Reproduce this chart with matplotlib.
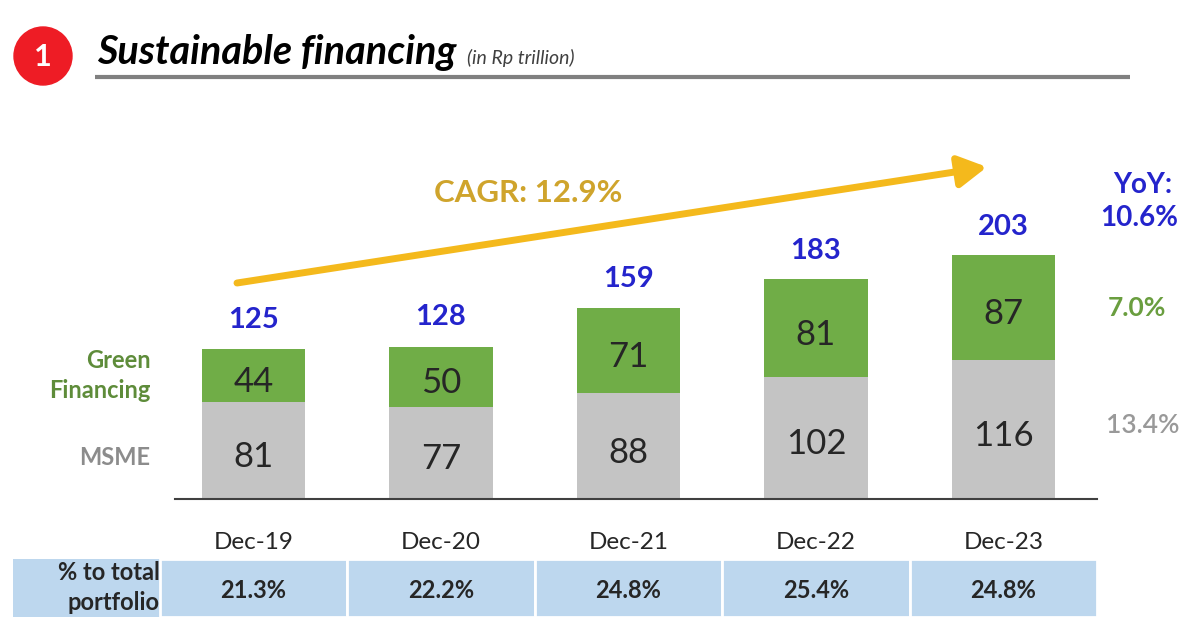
import matplotlib.pyplot as plt
from matplotlib import transforms
from matplotlib.patches import Circle, Rectangle, FancyArrowPatch

plt.rcParams['font.family'] = ['Lato', 'DejaVu Sans']

# data (Rp trillion)
periods = ['Dec-19', 'Dec-20', 'Dec-21', 'Dec-22', 'Dec-23']
msme = [81, 77, 88, 102, 116]
green = [44, 50, 71, 81, 87]
totals = [125, 128, 159, 183, 203]
share_of_portfolio = ['21.3%', '22.2%', '24.8%', '25.4%', '24.8%']
yoy_total = '10.6%'
yoy_green = '7.0%'
yoy_msme = '13.4%'
cagr = '12.9%'

W, H = 1200, 636
GREEN = '#70ad47'
GREY = '#c4c4c4'
BLUE = '#2424cc'
DARK = '#262626'

fig = plt.figure(figsize=(12, 6.36), dpi=100)

def fx(x):
    return x / W

def fy(y):
    return 1 - y / H

# overlay in pixel units for the header and the arrow
deco = fig.add_axes([0, 0, 1, 1])
deco.set_xlim(0, W)
deco.set_ylim(H, 0)
deco.axis('off')

deco.add_patch(Circle((43, 56), 29, color='#ee1c25'))
deco.text(43, 57, '1', color='white', fontsize=22, fontweight='bold',
          ha='center', va='center')
deco.text(97, 64, 'Sustainable financing', fontsize=28.5, fontweight='bold',
          fontstyle='italic', color='black', va='baseline')
deco.text(467, 64, '(in Rp trillion)', fontsize=14, fontstyle='italic',
          color='#404040', va='baseline')
deco.plot([95, 1130], [77, 77], color='#808080', lw=3, solid_capstyle='butt')

arrow = FancyArrowPatch((237, 283), (987, 167),
                        arrowstyle='-|>,head_length=1.7,head_width=0.95',
                        mutation_scale=10, lw=5, color='#f4b91c',
                        shrinkA=0, shrinkB=0, zorder=3)
deco.add_patch(arrow)
deco.text(528, 193, f'CAGR: {cagr}', fontsize=22.5, fontweight='bold',
          color='#cfa42c', ha='center', va='center')

# bar chart
ax = fig.add_axes([175 / W, (H - 499) / H, 922 / W, 359 / H])
ax.patch.set_visible(False)
x = list(range(len(periods)))
ax.bar(x, msme, width=0.55, color=GREY)
ax.bar(x, green, width=0.55, bottom=msme, color=GREEN)
ax.set_xlim(-0.4187, 4.499)
ax.set_ylim(0, 359 / 1.2)
for s in ['top', 'left', 'right']:
    ax.spines[s].set_visible(False)
ax.spines['bottom'].set_color('#404040')
ax.spines['bottom'].set_linewidth(1.5)
ax.set_yticks([])
ax.set_xticks(x, periods)
ax.tick_params(axis='x', length=0, pad=24, labelsize=17.5, labelcolor=DARK)

for i in x:
    ax.annotate(str(totals[i]), (i, totals[i]), xytext=(0, 15),
                textcoords='offset points', ha='center', va='baseline',
                fontsize=21, fontweight='bold', color=BLUE)
    ax.annotate(str(msme[i]), (i, msme[i] / 2), xytext=(0, -12),
                textcoords='offset points', ha='center', va='baseline',
                fontsize=25, color=DARK)
    ax.annotate(str(green[i]), (i, msme[i] + green[i] / 2), xytext=(0, -12),
                textcoords='offset points', ha='center', va='baseline',
                fontsize=25, color=DARK)

# series labels on the left
ax.annotate('Green\nFinancing', (-0.275, msme[0] + green[0] / 2), xytext=(-37, 0),
            textcoords='offset points', ha='right', va='center',
            fontsize=17, fontweight='bold', color='#5e8c3a', annotation_clip=False,
            linespacing=1.35)
ax.annotate('MSME', (-0.275, msme[0] / 2), xytext=(-37, -5),
            textcoords='offset points', ha='right', va='center',
            fontsize=17, fontweight='bold', color='#8c8c8c', annotation_clip=False)

# YoY labels on the right
last = len(periods) - 1
ax.annotate(yoy_total, (last, totals[last]), xytext=(98, 21),
            textcoords='offset points', ha='center', va='baseline',
            fontsize=20, fontweight='bold', color=BLUE, annotation_clip=False)
ax.annotate('YoY:', (last, totals[last]), xytext=(100, 45),
            textcoords='offset points', ha='center', va='baseline',
            fontsize=20, fontweight='bold', color=BLUE, annotation_clip=False)
ax.annotate(yoy_green, (last, msme[last] + green[last] / 2), xytext=(96, 0),
            textcoords='offset points', ha='center', va='center',
            fontsize=19, fontweight='bold', color='#6a9e3f', annotation_clip=False)
ax.annotate(yoy_msme, (last, msme[last] / 2), xytext=(100, 3),
            textcoords='offset points', ha='center', va='center',
            fontsize=19, fontweight='semibold', color='#999999', annotation_clip=False)

# table row under the chart
trans = transforms.blended_transform_factory(ax.transData, fig.transFigure)
row_top, row_bot = 559, 617
ax.add_patch(Rectangle((-1.283, fy(row_bot)), 0.783, (row_bot - row_top) / H,
                       transform=trans, facecolor='#bdd7ee', edgecolor='none',
                       clip_on=False))
ax.text(-0.5, fy(573), '% to total', transform=trans, ha='right', va='center',
        fontsize=17, fontweight='bold', color=DARK)
ax.text(-0.5, fy(603), 'portfolio', transform=trans, ha='right', va='center',
        fontsize=17, fontweight='bold', color=DARK)
for i in x:
    ax.add_patch(Rectangle((i - 0.5, fy(row_bot)), 1, (row_bot - row_top) / H,
                           transform=trans, facecolor='#bdd7ee', edgecolor='white',
                           lw=2, clip_on=False))
    ax.text(i, fy(590), share_of_portfolio[i], transform=trans, ha='center',
            va='center', fontsize=17, fontweight='bold', color=DARK)

fig.savefig('out.png', dpi=100)
